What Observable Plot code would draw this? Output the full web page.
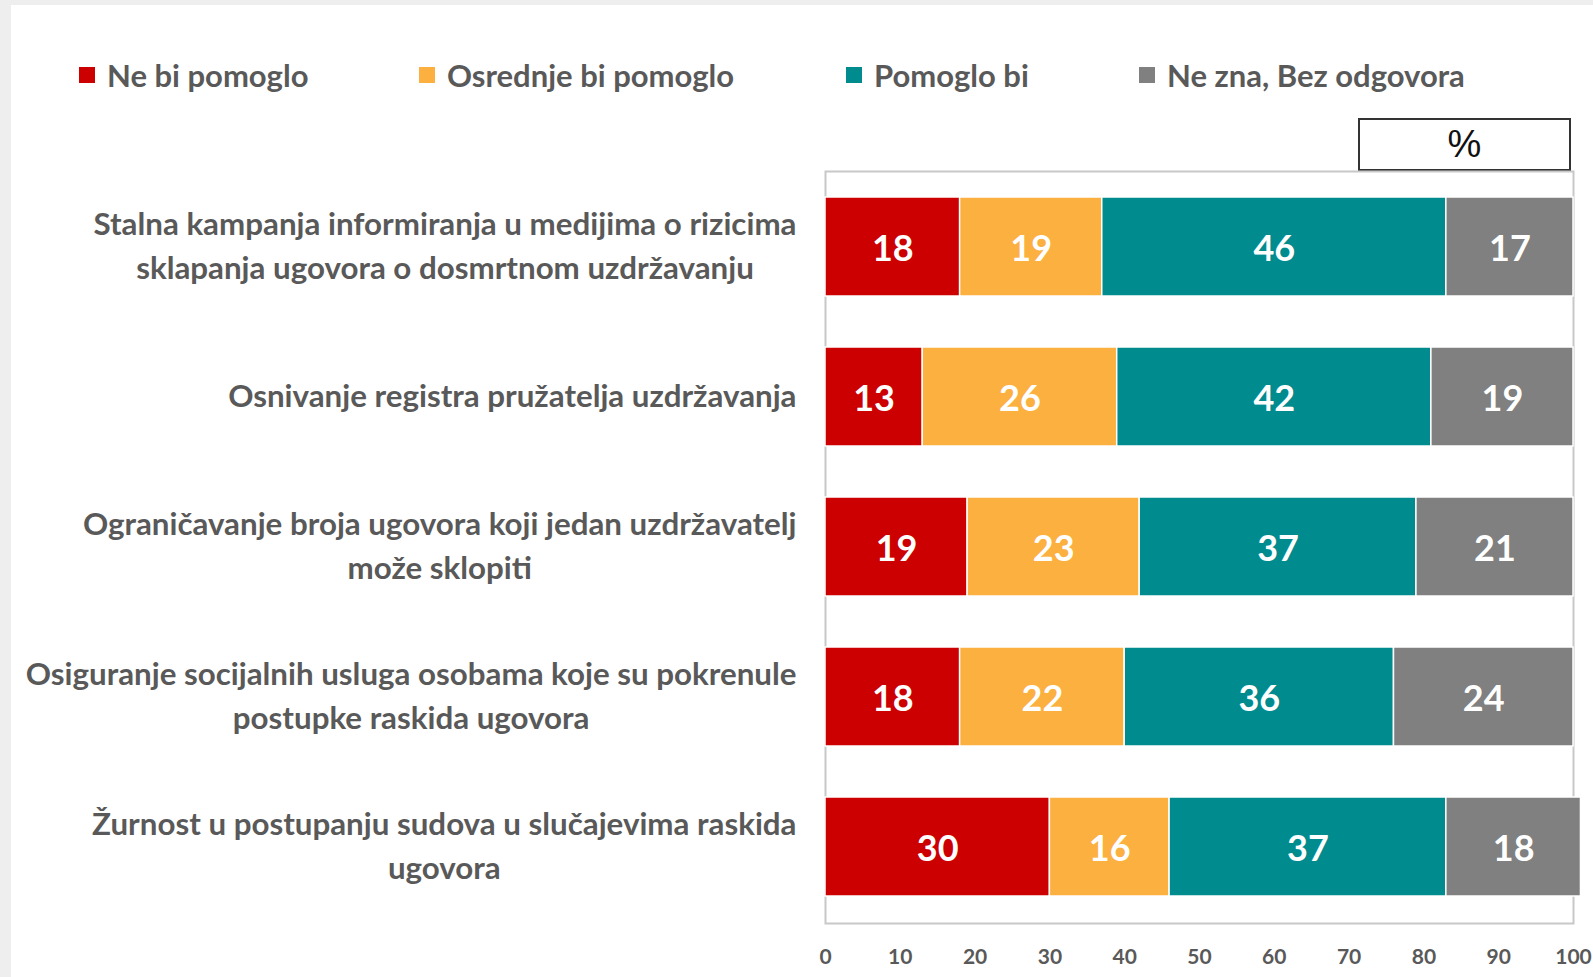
<!DOCTYPE html>
<html>
<head>
<meta charset="utf-8">
<script src="https://cdn.jsdelivr.net/npm/d3@7"></script>
<script src="https://cdn.jsdelivr.net/npm/@observablehq/plot@0.6"></script>
<style>
  html, body { margin: 0; padding: 0; background: #eeeeee; }
  body { width: 1593px; height: 977px; position: relative; overflow: hidden; font-family: Lato, "Noto Sans", sans-serif; }
  #panel { position: absolute; left: 11px; top: 5px; width: 1582px; height: 972px; background: #ffffff; }
  .legend-item { position: absolute; top: 50px; height: 40px; display: flex; align-items: center; font-weight: bold; font-size: 31px; color: #595959; white-space: nowrap; }
  .legend-item .sw { width: 16px; height: 16px; margin-right: 12px; }
  #unitbox { position: absolute; left: 1347px; top: 113px; width: 213px; height: 53px; border: 2px solid #333; box-sizing: border-box; display: flex; align-items: center; justify-content: center; font-size: 38px; color: #111; font-family: "Liberation Sans", Arial, sans-serif; }
  #chart { position: absolute; left: 0; top: 95px; }
</style>
</head>
<body>
<div id="panel">
  <div id="legend"></div>
  <div id="unitbox">%</div>
  <div id="chart"></div>
</div>
<script>
// ---- data ----
const categories = ["Ne bi pomoglo", "Osrednje bi pomoglo", "Pomoglo bi", "Ne zna, Bez odgovora"];
const colors = ["#cc0000", "#fbb040", "#008b8f", "#808080"];
const items = [
  "Stalna kampanja informiranja u medijima o rizicima\nsklapanja ugovora o dosmrtnom uzdržavanju",
  "Osnivanje registra pružatelja uzdržavanja",
  "Ograničavanje broja ugovora koji jedan uzdržavatelj\nmože sklopiti",
  "Osiguranje socijalnih usluga osobama koje su pokrenule\npostupke raskida ugovora",
  "Žurnost u postupanju sudova u slučajevima raskida\nugovora"
];
const neBiPomoglo     = [18, 13, 19, 18, 30];
const osrednje        = [19, 26, 23, 22, 16];
const pomogloBi       = [46, 42, 37, 36, 37];
const neZna           = [17, 19, 21, 24, 18];
const xTicks = [0, 10, 20, 30, 40, 50, 60, 70, 80, 90, 100];
const legendX = [68, 408, 835, 1128];

// ---- build table ----
const series = [neBiPomoglo, osrednje, pomogloBi, neZna];
const data = [];
items.forEach((item, i) => {
  categories.forEach((cat, c) => data.push({item, cat, value: series[c][i]}));
});

// ---- legend ----
const legend = document.getElementById("legend");
categories.forEach((cat, i) => {
  const el = document.createElement("div");
  el.className = "legend-item";
  el.style.left = legendX[i] + "px";
  el.innerHTML = `<span class="sw" style="background:${colors[i]}"></span><span></span>`;
  el.lastChild.textContent = cat;
  legend.appendChild(el);
});

// ---- label measuring (centred multi-line labels, right-aligned as a block) ----
const labelFont = 31.3;
const ctx = document.createElement("canvas").getContext("2d");
ctx.font = `bold ${labelFont}px Lato`;
const labelGap = 29;

const labelMarks = items.map(item => {
  const w = d3.max(item.split("\n"), s => ctx.measureText(s).width);
  return Plot.text([item], {
    y: d => d,
    text: d => d,
    frameAnchor: "left",
    textAnchor: "middle",
    dx: -(labelGap + w / 2),
    dy: -4,
    fontSize: labelFont,
    fontWeight: "bold",
    fill: "#595959",
    lineHeight: 1.42
  });
});

const plot = Plot.plot({
  width: 1582,
  height: 877,
  marginTop: 71,
  marginBottom: 54,
  marginLeft: 814,
  marginRight: 20,
  style: {fontFamily: "Lato, 'Noto Sans', sans-serif", color: "#595959", background: "transparent"},
  x: {domain: [0, 100], axis: null, label: null},
  y: {domain: items, paddingInner: 0.338, paddingOuter: 0.169, axis: null},
  color: {domain: categories, range: colors},
  marks: [
    Plot.frame({stroke: "#c8c8c8", strokeWidth: 2}),
    Plot.barX(data, Plot.stackX({x: "value", y: "item", z: "cat", fill: "cat", stroke: "white", strokeWidth: 1.5, order: categories})),
    Plot.text(data, Plot.stackX({x: "value", y: "item", z: "cat", text: "value", order: categories, fill: "white", fontSize: 36, fontWeight: "bold", dy: 2})),
    Plot.axisX({ticks: xTicks, tickSize: 0, tickPadding: 26, fontSize: 21, fontWeight: "bold", anchor: "bottom", label: null}),
    ...labelMarks
  ]
});
document.getElementById("chart").appendChild(plot);
</script>
</body>
</html>
